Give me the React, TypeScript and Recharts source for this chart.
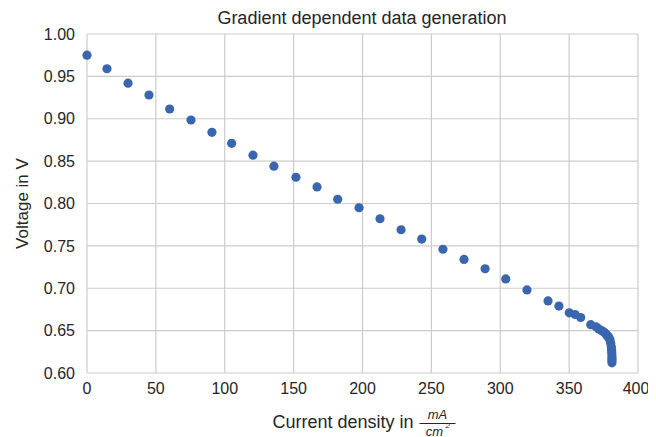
import React from 'react';
import { ScatterChart, Scatter, XAxis, YAxis, CartesianGrid, Label } from 'recharts';

// polarisation curve samples: current density (mA/cm²) and cell voltage (V)
const currentDensity = [
  0, 14.5, 29.8, 45, 60, 75.5, 90.7, 105, 120.5, 135.7, 151.7, 167, 182, 197.5,
  212.7, 228, 243, 258.4, 273.7, 289, 304, 319.4, 334.7, 342.6, 350.1, 354.3,
  358.4, 365.7, 369.5, 371.5, 373.6, 375.5, 376.8, 377.6, 378.4, 379.1, 379.7,
  380.2, 380.6, 380.8, 380.9, 381, 381.1, 381.1, 381.1, 381.1,
];
const voltage = [
  0.975, 0.959, 0.942, 0.928, 0.9115, 0.8985, 0.884, 0.871, 0.857, 0.844, 0.831,
  0.8195, 0.805, 0.795, 0.782, 0.769, 0.758, 0.746, 0.734, 0.723, 0.711, 0.698,
  0.685, 0.679, 0.671, 0.669, 0.6655, 0.657, 0.6545, 0.652, 0.65, 0.648, 0.646,
  0.644, 0.643, 0.641, 0.639, 0.635, 0.631, 0.628, 0.6255, 0.623, 0.6195, 0.617,
  0.615, 0.612,
];
const xTicks = [0, 50, 100, 150, 200, 250, 300, 350, 400];
const yTicks = [0.6, 0.65, 0.7, 0.75, 0.8, 0.85, 0.9, 0.95, 1.0];

const points = currentDensity.map((x, i) => ({ x, y: voltage[i] }));

const FONT = 'Arial, "Liberation Sans", sans-serif';
const TEXT = '#262626';

const Dot = (props: any) => {
  const { cx, cy } = props;
  return <circle cx={cx} cy={cy} r={4.6} fill="#3a66ae" />;
};

// x label with a stacked mA / cm² fraction
const XLabel = (props: any) => {
  const { viewBox } = props;
  const cx = viewBox.x + viewBox.width / 2;
  const y = viewBox.y + 55;
  return (
    <g fontFamily={FONT} fill={TEXT}>
      <text x={cx - 90} y={y} fontSize={18}>
        Current density in
      </text>
      <text x={cx + 75} y={y - 9} fontSize={13} fontStyle="italic" textAnchor="middle">
        mA
      </text>
      <line x1={cx + 57} x2={cx + 93} y1={y - 4.5} y2={y - 4.5} stroke={TEXT} strokeWidth={1} />
      <text x={cx + 72} y={y + 7.5} fontSize={13} fontStyle="italic" textAnchor="middle">
        cm
      </text>
      <text x={cx + 83} y={y} fontSize={8} fontStyle="italic">
        2
      </text>
    </g>
  );
};

const App = () => {
  return (
    <div style={{ width: 640, height: 429 }}>
      <ScatterChart width={640} height={429} margin={{ top: 26, right: 10, bottom: 34, left: 19 }}>
        <text x={354} y={16} textAnchor="middle" fontFamily={FONT} fontSize={18} fill={TEXT}>
          Gradient dependent data generation
        </text>
        <CartesianGrid stroke="#cccccc" strokeWidth={1.2} />
        <XAxis
          type="number"
          dataKey="x"
          domain={[0, 400]}
          ticks={xTicks}
          axisLine={false}
          tickLine={false}
          tickMargin={4}
          height={30}
          tick={{ fontSize: 16, fill: TEXT, fontFamily: FONT }}
        >
          <Label content={<XLabel />} />
        </XAxis>
        <YAxis
          type="number"
          dataKey="y"
          domain={[0.6, 1.0]}
          ticks={yTicks}
          axisLine={false}
          tickLine={false}
          tickMargin={6}
          width={60}
          tickFormatter={(v: number) => v.toFixed(2)}
          tick={{ fontSize: 16, fill: TEXT, fontFamily: FONT }}
        >
          <Label
            value="Voltage in V"
            angle={-90}
            position="insideLeft"
            offset={-5}
            style={{ textAnchor: 'middle', fontSize: 17, fill: TEXT, fontFamily: FONT }}
          />
        </YAxis>
        <Scatter data={points} shape={<Dot />} isAnimationActive={false} />
      </ScatterChart>
    </div>
  );
};

export default App;
